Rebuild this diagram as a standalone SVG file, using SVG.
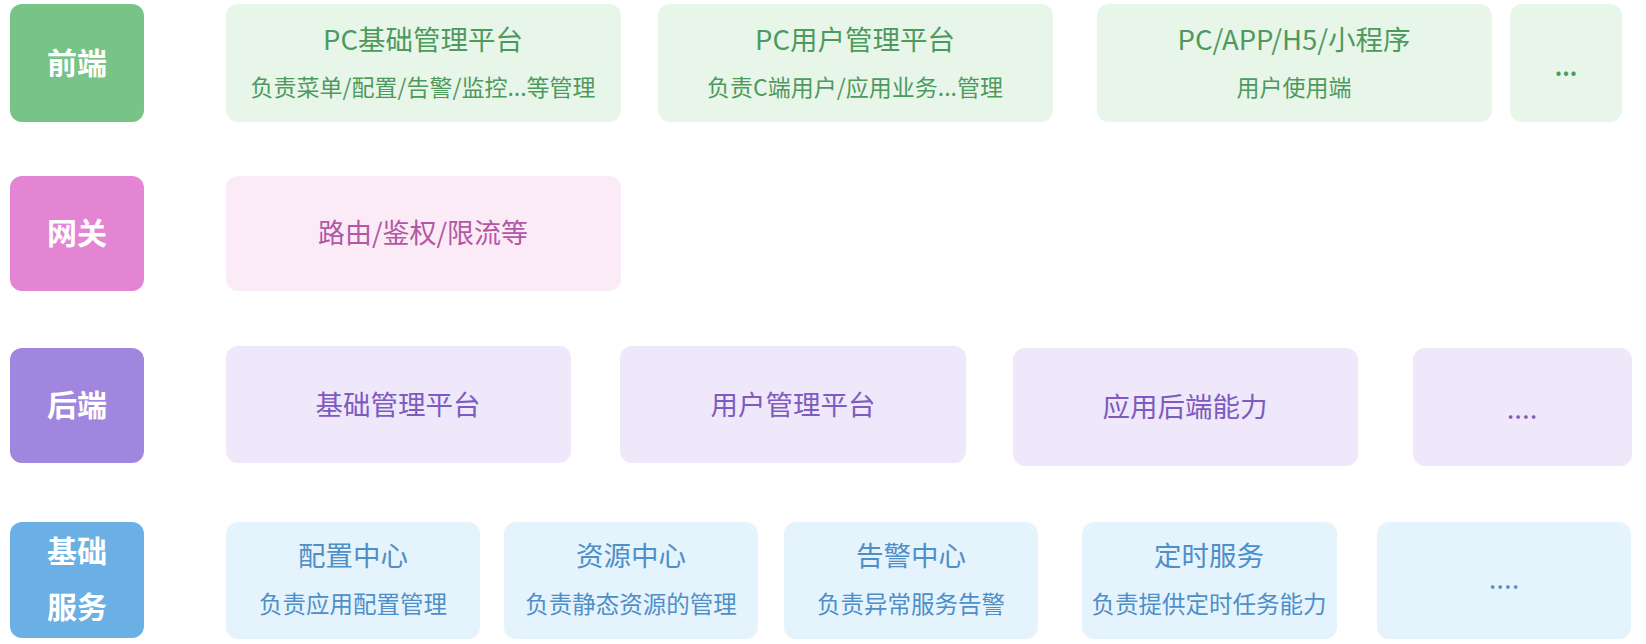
<svg xmlns="http://www.w3.org/2000/svg" width="1646" height="644" viewBox="0 0 1646 644">
<style>
text{font-family:"Noto Sans CJK SC","Noto Sans",sans-serif;text-anchor:middle;font-weight:400}
.lab{fill:#fff;font-size:30px;font-weight:bold}
.t{font-size:27.5px}
.s{font-size:23px}
.s2{font-size:23.5px}
.g rect{fill:#E8F6E9}.g text{fill:#4E9A5E}
.p rect{fill:#FAEBF6}.p text{fill:#B457A5}
.v rect{fill:#EFE7FA}.v text{fill:#7E5BBE}
.b rect{fill:#E5F3FC}.b text{fill:#4F8FC8}
.dots{font-weight:bold}
</style>
<rect width="1646" height="644" fill="#fff"/>
<g id="label-frontend"><rect x="10" y="4" width="134" height="118" rx="12" fill="#78C386"/><text class="lab" x="77" y="74">前端</text></g>
<g id="label-gateway"><rect x="10" y="176" width="134" height="115" rx="12" fill="#E485D4"/><text class="lab" x="77" y="244">网关</text></g>
<g id="label-backend"><rect x="10" y="348" width="134" height="115" rx="12" fill="#A186E0"/><text class="lab" x="77" y="416">后端</text></g>
<g id="label-infra"><rect x="10" y="522" width="134" height="116" rx="12" fill="#6AB0E4"/><text class="lab" x="77" y="562">基础</text><text class="lab" x="77" y="618">服务</text></g>

<g id="fe-pc-base" class="g"><rect x="226" y="4" width="395" height="118" rx="12"/><text class="t" x="423" y="50">PC基础管理平台</text><text class="s" x="423" y="96">负责菜单/配置/告警/监控...等管理</text></g>
<g id="fe-pc-user" class="g"><rect x="658" y="4" width="395" height="118" rx="12"/><text class="t" x="855" y="50">PC用户管理平台</text><text class="s" x="855" y="96">负责C端用户/应用业务...管理</text></g>
<g id="fe-client" class="g"><rect x="1097" y="4" width="395" height="118" rx="12"/><text class="t" x="1294" y="50">PC/APP/H5/小程序</text><text class="s" x="1294" y="96">用户使用端</text></g>
<g id="fe-more" class="g"><rect x="1510" y="4" width="112" height="118" rx="12"/><text class="s dots" x="1566" y="76">...</text></g>

<g id="gw" class="p"><rect x="226" y="176" width="395" height="115" rx="12"/><text style="font-size:27px" x="423" y="243">路由/鉴权/限流等</text></g>

<g id="be-base" class="v"><rect x="226" y="346" width="345" height="117" rx="12"/><text class="t" x="398" y="415">基础管理平台</text></g>
<g id="be-user" class="v"><rect x="620" y="346" width="346" height="117" rx="12"/><text class="t" x="793" y="415">用户管理平台</text></g>
<g id="be-app" class="v"><rect x="1013" y="348" width="345" height="118" rx="12"/><text class="t" x="1185" y="417">应用后端能力</text></g>
<g id="be-more" class="v"><rect x="1413" y="348" width="219" height="118" rx="12"/><text class="t" x="1522" y="419">....</text></g>

<g id="in-config" class="b"><rect x="226" y="522" width="254" height="117" rx="12"/><text class="t" x="353" y="566">配置中心</text><text class="s2" x="353" y="613">负责应用配置管理</text></g>
<g id="in-resource" class="b"><rect x="504" y="522" width="254" height="117" rx="12"/><text class="t" x="631" y="566">资源中心</text><text class="s2" x="631" y="613">负责静态资源的管理</text></g>
<g id="in-alarm" class="b"><rect x="784" y="522" width="254" height="117" rx="12"/><text class="t" x="911" y="566">告警中心</text><text class="s2" x="911" y="613">负责异常服务告警</text></g>
<g id="in-cron" class="b"><rect x="1082" y="522" width="255" height="117" rx="12"/><text class="t" x="1209" y="566">定时服务</text><text class="s2" x="1209" y="613">负责提供定时任务能力</text></g>
<g id="in-more" class="b"><rect x="1377" y="522" width="254" height="117" rx="12"/><text class="t" x="1504" y="589">....</text></g>
<g id="connectors"/>
</svg>
